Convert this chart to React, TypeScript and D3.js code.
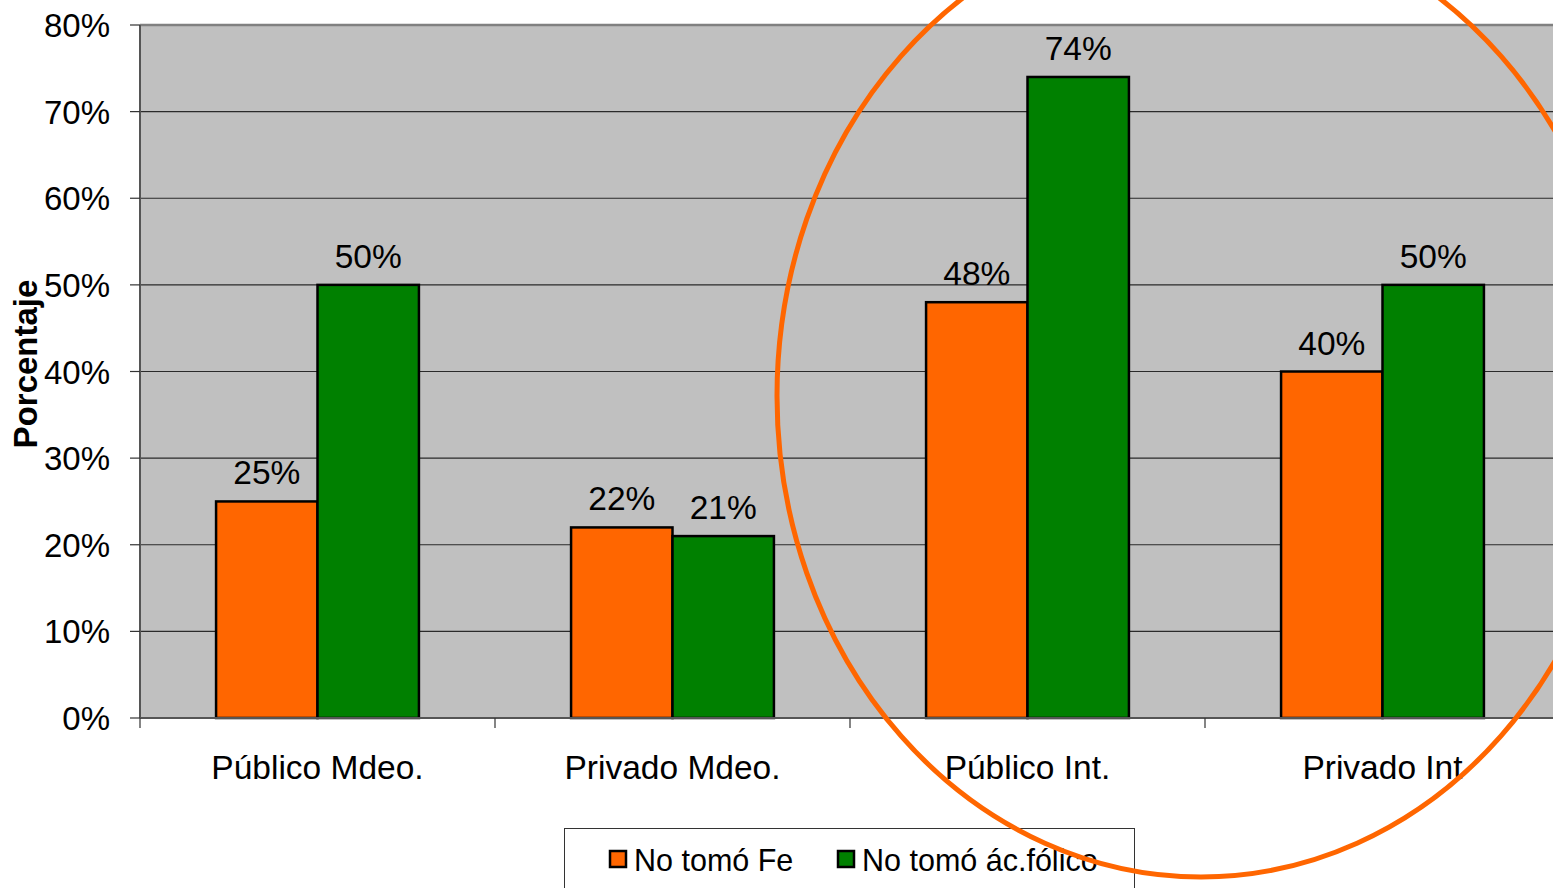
import React from "react";
import * as d3 from "d3";

// Chart data
const categories = ["Público Mdeo.", "Privado Mdeo.", "Público Int.", "Privado Int"];
const seriesNames = ["No tomó Fe", "No tomó ác.fólico"];
const noTomoFe = [0.25, 0.22, 0.48, 0.4];
const noTomoAcFolico = [0.5, 0.21, 0.74, 0.5];
const yTicks = [0, 0.1, 0.2, 0.3, 0.4, 0.5, 0.6, 0.7, 0.8];
const seriesColors = ["#FF6600", "#008000"];

const W = 1553;
const H = 888;
const FONT = "'Liberation Sans', Arial, sans-serif";

export default function App() {
  const plot = { left: 140, right: 1560, top: 25, bottom: 718 };
  const x = d3.scaleBand<string>().domain(categories).range([plot.left, plot.left + 4 * 355]);
  const inner = d3
    .scaleBand<string>()
    .domain(seriesNames)
    .range([0, x.bandwidth()])
    .paddingInner(0)
    .paddingOuter(0.75);
  const y = d3.scaleLinear().domain([0, 0.8]).range([plot.bottom, plot.top]);
  const pct = d3.format(".0%");
  const series = [noTomoFe, noTomoAcFolico];

  return (
    <svg
      width={W}
      height={H}
      style={{ position: "absolute", left: 0, top: 0, background: "#fff" }}
      fontFamily={FONT}
    >
      {/* plot background */}
      <rect
        x={plot.left}
        y={plot.top}
        width={plot.right - plot.left}
        height={plot.bottom - plot.top}
        fill="#C0C0C0"
      />
      {/* gridlines */}
      {yTicks.slice(1, -1).map((t) => (
        <line key={t} x1={plot.left} x2={plot.right} y1={y(t)} y2={y(t)} stroke="#2a2a2a" strokeWidth={1.2} />
      ))}
      <line x1={plot.left} x2={plot.right} y1={plot.top} y2={plot.top} stroke="#808080" strokeWidth={2.5} />

      {/* bars */}
      {categories.map((c, i) =>
        seriesNames.map((s, j) => {
          const v = series[j][i];
          const bx = (x(c) as number) + (inner(s) as number);
          return (
            <rect
              key={c + s}
              x={bx}
              y={y(v)}
              width={inner.bandwidth()}
              height={y(0) - y(v)}
              fill={seriesColors[j]}
              stroke="#000"
              strokeWidth={2.5}
            />
          );
        })
      )}

      {/* axes */}
      <line x1={plot.left} x2={plot.left} y1={plot.top} y2={plot.bottom} stroke="#555" strokeWidth={2} />
      <line x1={plot.left} x2={plot.right} y1={plot.bottom} y2={plot.bottom} stroke="#555" strokeWidth={2} />
      {yTicks.map((t) => (
        <g key={t}>
          <line x1={plot.left - 10} x2={plot.left} y1={y(t)} y2={y(t)} stroke="#333" strokeWidth={1.2} />
          <text x={110} y={y(t) + 12} fontSize={33} textAnchor="end" fill="#000">
            {pct(t)}
          </text>
        </g>
      ))}
      {categories.map((c) => (
        <g key={c}>
          <line
            x1={x(c) as number}
            x2={x(c) as number}
            y1={plot.bottom}
            y2={plot.bottom + 10}
            stroke="#333"
            strokeWidth={1.2}
          />
          <text x={(x(c) as number) + x.bandwidth() / 2} y={779} fontSize={33.5} textAnchor="middle" fill="#000">
            {c}
          </text>
        </g>
      ))}

      {/* value labels */}
      {categories.map((c, i) =>
        seriesNames.map((s, j) => {
          const v = series[j][i];
          const cx = (x(c) as number) + (inner(s) as number) + inner.bandwidth() / 2;
          return (
            <text key={"l" + c + s} x={cx} y={y(v) - 17} fontSize={33.5} textAnchor="middle" fill="#000">
              {pct(v)}
            </text>
          );
        })
      )}

      {/* y axis title */}
      <text
        transform={`translate(37, 364) rotate(-90)`}
        fontSize={33}
        fontWeight="bold"
        textAnchor="middle"
        fill="#000"
      >
        Porcentaje
      </text>

      {/* legend */}
      <rect x={564.5} y={828.5} width={570} height={80} fill="#fff" stroke="#333" strokeWidth={1} />
      {seriesNames.map((s, j) => {
        const lx = j === 0 ? 610 : 838;
        return (
          <g key={s}>
            <rect x={lx} y={851} width={16} height={16} fill={seriesColors[j]} stroke="#000" strokeWidth={2.5} />
            <text x={lx + 24} y={871} fontSize={30.5} fill="#000">
              {s}
            </text>
          </g>
        );
      })}

      {/* highlight ring around the interior groups */}
      <ellipse cx={1201} cy={396} rx={424} ry={481} fill="none" stroke="#FF6600" strokeWidth={5} />
    </svg>
  );
}
